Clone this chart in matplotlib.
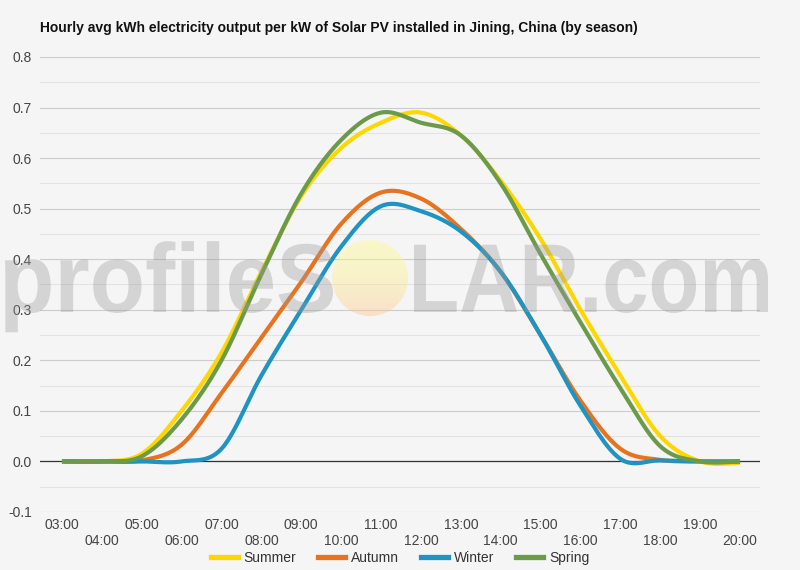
import numpy as np
import matplotlib
matplotlib.use('Agg')
import matplotlib.pyplot as plt
from matplotlib.patches import Circle, PathPatch
from matplotlib.lines import Line2D
from matplotlib.textpath import TextPath
from matplotlib.font_manager import FontProperties
from matplotlib.transforms import Affine2D

hours = ['03:00', '04:00', '05:00', '06:00', '07:00', '08:00', '09:00', '10:00', '11:00',
         '12:00', '13:00', '14:00', '15:00', '16:00', '17:00', '18:00', '19:00', '20:00']

summer = [0, 0, 0.015, 0.10, 0.215, 0.375, 0.525, 0.62, 0.67, 0.69, 0.645, 0.555,
          0.44, 0.30, 0.17, 0.05, 0.0, -0.003]
autumn = [0, 0, 0.002, 0.033, 0.135, 0.245, 0.355, 0.47, 0.532, 0.52, 0.46, 0.375,
          0.25, 0.12, 0.025, 0.003, 0, 0]
winter = [0, 0, 0, 0, 0.025, 0.17, 0.30, 0.425, 0.505, 0.495, 0.455, 0.375,
          0.25, 0.11, 0.005, 0.002, 0, 0]
spring = [0, 0, 0.01, 0.083, 0.20, 0.37, 0.53, 0.636, 0.69, 0.67, 0.645, 0.55,
          0.41, 0.275, 0.145, 0.03, 0, 0]

series = [('Summer', summer, '#ffd700'),
          ('Autumn', autumn, '#e8731f'),
          ('Winter', winter, '#1f93c2'),
          ('Spring', spring, '#6b9a4b')]


def smooth(x, y, n=24):
    # catmull-rom curve through the hourly points (like the original's curved lines)
    pts = np.column_stack([x, y]).astype(float)
    p = np.vstack([pts[0], pts, pts[-1]])
    t = np.linspace(0, 1, n, endpoint=False)[:, None]
    out = []
    for i in range(1, len(p) - 2):
        p0, p1, p2, p3 = p[i - 1], p[i], p[i + 1], p[i + 2]
        seg = 0.5 * (2 * p1 + (-p0 + p2) * t + (2 * p0 - 5 * p1 + 4 * p2 - p3) * t ** 2
                     + (-p0 + 3 * p1 - 3 * p2 + p3) * t ** 3)
        out.append(seg)
    out.append(pts[-1:])
    arr = np.vstack(out)
    return arr[:, 0], arr[:, 1]


plt.rcParams['font.family'] = ['Liberation Sans', 'DejaVu Sans']
bg = '#f5f5f5'
fig = plt.figure(figsize=(8, 5.7), dpi=100, facecolor=bg)
ax = fig.add_axes([0.05, 0.1018, 0.90, 0.7982])
ax.set_facecolor(bg)

x = np.arange(len(hours))
for name, vals, color in series:
    sx, sy = smooth(x, vals)
    ax.plot(sx, sy, color=color, lw=3, solid_capstyle='butt', label=name, zorder=3)

ax.set_xlim(-0.55, 17.5)
ax.set_ylim(-0.1, 0.8)
ax.set_yticks(np.arange(-0.1, 0.81, 0.1))
ax.set_yticklabels([f'{v:.1f}' for v in np.arange(-0.1, 0.81, 0.1)])
ax.set_yticks(np.arange(-0.05, 0.8, 0.1), minor=True)
ax.grid(True, which='major', axis='y', color='#cccccc', lw=0.8, zorder=0)
ax.grid(True, which='minor', axis='y', color='#e3e3e3', lw=0.8, zorder=0)
ax.axhline(0, color='#333333', lw=0.9, zorder=2)
for s in ax.spines.values():
    s.set_visible(False)

ax.set_xticks(x)
ax.set_xticklabels([h if i % 2 == 0 else '\n' + h for i, h in enumerate(hours)],
                   linespacing=1.25)
ax.tick_params(axis='both', which='both', length=0, labelsize=10, labelcolor='#444444')
ax.tick_params(axis='x', pad=4)
ax.tick_params(axis='y', pad=6)

fig.text(0.05, 1 - 28 / 570, 'Hourly avg kWh electricity output per kW of Solar PV installed in Jining, China (by season)',
         fontsize=10, fontweight='bold', va='center', ha='left', color='#111111')

handles = [Line2D([], [], color=c, lw=3.8) for _, _, c in series]
fig.legend(handles, [n for n, _, _ in series], loc='center', bbox_to_anchor=(0.5, 1 - 558 / 570),
           ncol=4, frameon=False, fontsize=10, handlelength=1.95, handletextpad=0.4,
           columnspacing=1.6, labelcolor='#333333')

# watermark overlay in pixel coords (y down)
wm = fig.add_axes([0, 0, 1, 1], zorder=5)
wm.set_xlim(0, 800)
wm.set_ylim(570, 0)
wm.axis('off')
wm.patch.set_alpha(0)

wm_font = FontProperties(family='Liberation Sans', weight='bold')


def watermark_word(text, x0, x1, baseline, cap):
    tp = TextPath((0, 0), text, size=1, prop=wm_font)
    ext = tp.get_extents()
    sx = (x1 - x0) / ext.width
    sy = cap / 0.716
    tr = Affine2D().translate(-ext.x0, 0).scale(sx, -sy).translate(x0, baseline)
    wm.add_patch(PathPatch(tr.transform_path(tp), facecolor='#9a9a9a', edgecolor='none', alpha=0.36))


watermark_word('profileS', 5, 333, 312, 70)
watermark_word('LAR.com', 414, 768, 312, 70)

sun = Circle((370, 278), 38, facecolor='none', edgecolor='none')
wm.add_patch(sun)
grad = np.linspace(0, 1, 64)
cols = np.zeros((64, 1, 4))
cols[:, 0, 0] = 1.0
cols[:, 0, 1] = 0.985 - 0.25 * grad ** 2
cols[:, 0, 2] = 0.51
cols[:, 0, 3] = 0.38
im = wm.imshow(cols, extent=(332, 408, 316, 240), aspect='auto', interpolation='bilinear')
im.set_clip_path(sun)

fig.savefig('out.png', dpi=100, facecolor=bg)
